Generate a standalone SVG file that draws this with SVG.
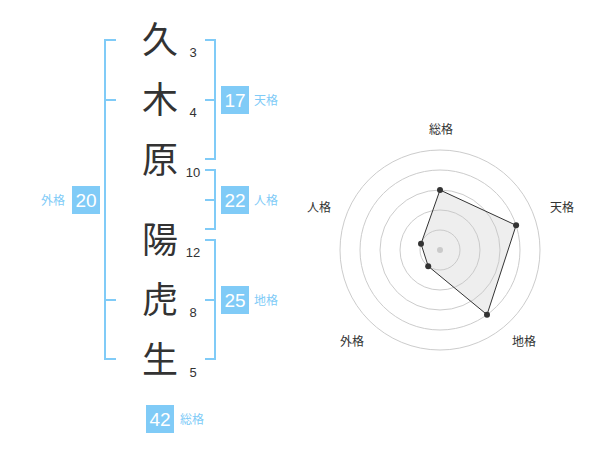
<svg xmlns="http://www.w3.org/2000/svg" width="600" height="470" viewBox="0 0 600 470">
<style>
.ch{font-family:"Noto Sans CJK JP","Noto Sans CJK SC",sans-serif;font-size:36px;fill:#333;text-anchor:middle}
.st{font-family:"Liberation Sans",Arial,sans-serif;font-size:13px;fill:#333;text-anchor:middle}
.br{fill:none;stroke:#80CBF7;stroke-width:2}
.bx{fill:#80CBF7}
.bn{font-family:"Liberation Sans",Arial,sans-serif;font-size:19px;fill:#fff;text-anchor:middle}
.bl{font-family:"Noto Sans CJK JP","Noto Sans CJK SC",sans-serif;font-size:12px;fill:#80CBF7}
.rl{font-family:"Noto Sans CJK JP","Noto Sans CJK SC",sans-serif;font-size:12px;fill:#333;text-anchor:middle}
.ring{fill:none;stroke:#ccc;stroke-width:1}
</style>
<rect width="600" height="470" fill="#fff"/>
<g id="brackets">
<path class="br" d="M116,40 H105 V359 H116 M105,100 H116 M105,300 H116"/>
<path class="br" d="M205,40 H215 V159 H205 M205,100 H215"/>
<path class="br" d="M205,170 H215 V229 H205 M205,200 H215"/>
<path class="br" d="M205,240 H215 V359 H205 M205,300 H215"/>
</g>
<g id="chars">
<text class="ch" x="160" y="53">久</text>
<text class="ch" x="160" y="113">木</text>
<text class="ch" x="160" y="173">原</text>
<text class="ch" x="160" y="253">陽</text>
<text class="ch" x="160" y="313">虎</text>
<text class="ch" x="160" y="373">生</text>
</g>
<g id="strokes">
<text class="st" x="193" y="57">3</text>
<text class="st" x="193" y="117">4</text>
<text class="st" x="193" y="177">10</text>
<text class="st" x="193" y="257">12</text>
<text class="st" x="193" y="317">8</text>
<text class="st" x="193" y="377">5</text>
</g>
<g id="tenkaku">
<rect class="bx" x="221" y="86" width="28" height="28"/>
<text class="bn" x="235" y="107">17</text>
<text class="bl" x="254" y="105">天格</text>
</g>
<g id="jinkaku">
<rect class="bx" x="221" y="186" width="28" height="28"/>
<text class="bn" x="235" y="207">22</text>
<text class="bl" x="254" y="205">人格</text>
</g>
<g id="chikaku">
<rect class="bx" x="221" y="286" width="28" height="28"/>
<text class="bn" x="235" y="307">25</text>
<text class="bl" x="254" y="305">地格</text>
</g>
<g id="gaikaku">
<rect class="bx" x="72" y="186" width="28" height="28"/>
<text class="bn" x="86" y="207">20</text>
<text class="bl" x="41" y="205">外格</text>
</g>
<g id="soukaku">
<rect class="bx" x="146" y="405" width="28" height="28"/>
<text class="bn" x="160" y="426">42</text>
<text class="bl" x="180" y="424">総格</text>
</g>
<g id="radar">
<circle class="ring" cx="440" cy="250" r="20"/>
<circle class="ring" cx="440" cy="250" r="40"/>
<circle class="ring" cx="440" cy="250" r="60"/>
<circle class="ring" cx="440" cy="250" r="80"/>
<circle class="ring" cx="440" cy="250" r="100"/>
<circle cx="440" cy="250" r="3" fill="#ccc"/>
<polygon points="440,190 516.1,225.3 487,314.7 428.2,266.2 421,243.8" fill="rgba(200,200,200,0.3)" stroke="#333" stroke-width="1"/>
<g fill="#333">
<circle cx="440" cy="190" r="3"/>
<circle cx="516.1" cy="225.3" r="3"/>
<circle cx="487" cy="314.7" r="3"/>
<circle cx="428.2" cy="266.2" r="3"/>
<circle cx="421" cy="243.8" r="3"/>
</g>
<text class="rl" x="441" y="134">総格</text>
<text class="rl" x="562" y="212">天格</text>
<text class="rl" x="524" y="346">地格</text>
<text class="rl" x="352" y="346">外格</text>
<text class="rl" x="319" y="212">人格</text>
</g>
</svg>
